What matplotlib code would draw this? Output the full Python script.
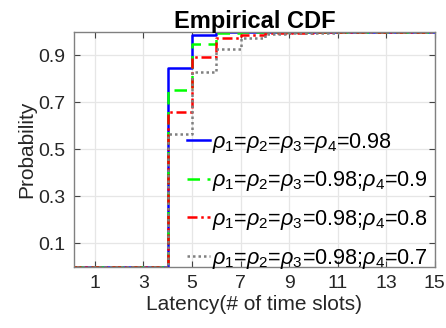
import matplotlib
matplotlib.use('Agg')
import matplotlib.pyplot as plt
import numpy as np

plt.rcParams['font.family'] = ['Liberation Sans', 'DejaVu Sans']
plt.rcParams['mathtext.fontset'] = 'custom'
plt.rcParams['mathtext.rm'] = 'Liberation Sans'
plt.rcParams['mathtext.it'] = 'Liberation Sans:italic'

# Latencias (pasos de la CDF) y probabilidades por serie
lat_azul = [0, 4, 5, 6, 15]
cdf_azul = [0, 0.846, 0.986, 1.0, 1.0]

lat_verde = [0, 4, 5, 6, 7, 8, 15]
cdf_verde = [0, 0.754, 0.950, 0.993, 0.998, 1.0, 1.0]

lat_rojo = [0, 4, 5, 6, 7, 8, 9, 10, 11, 15]
cdf_rojo = [0, 0.657, 0.893, 0.972, 0.988, 0.995, 0.997, 0.998, 1.0, 1.0]

lat_gris = [0, 4, 5, 6, 7, 8, 9, 10, 11, 15]
cdf_gris = [0, 0.564, 0.830, 0.926, 0.973, 0.990, 0.995, 0.997, 0.998, 0.999]

etiquetas = [
    r'$\rho_1$=$\rho_2$=$\rho_3$=$\rho_4$=0.98',
    r'$\rho_1$=$\rho_2$=$\rho_3$=0.98;$\rho_4$=0.9',
    r'$\rho_1$=$\rho_2$=$\rho_3$=0.98;$\rho_4$=0.8',
    r'$\rho_1$=$\rho_2$=$\rho_3$=0.98;$\rho_4$=0.7',
]

xticks = [1, 3, 5, 7, 9, 11, 13, 15]
yticks = [0.1, 0.3, 0.5, 0.7, 0.9]

fig = plt.figure(figsize=(4.46, 3.28), dpi=100)
ax = fig.add_axes([0.166, 0.187, 0.809, 0.716])

ax.step(lat_azul, cdf_azul, where='post', color='#0000ff', lw=1.8, ls='-', label=etiquetas[0])
ax.step(lat_verde, cdf_verde, where='post', color='#00ff00', lw=1.8, ls=(0, (5, 3)), label=etiquetas[1])
ax.step(lat_rojo, cdf_rojo, where='post', color='#ff0000', lw=1.8, ls=(0, (4, 1.5, 1, 1.5)), label=etiquetas[2])
ax.step(lat_gris, cdf_gris, where='post', color='#808080', lw=1.8, ls=(0, (1, 1.2)), label=etiquetas[3])

ax.set_xlim(0.14, 15)
ax.set_ylim(0, 1)
ax.set_xticks(xticks)
ax.set_yticks(yticks)
ax.set_xticklabels([str(t) for t in xticks])
ax.set_yticklabels([str(t) for t in yticks])

ax.grid(True, color='#e6e6e6', lw=0.9)
ax.set_axisbelow(True)
for s in ax.spines.values():
    s.set_color('#808080')
    s.set_linewidth(1.0)
ax.tick_params(direction='in', length=4, top=True, right=True, labelsize=14,
               colors='#262626', pad=6)
ax.tick_params(axis='both', which='both', color='#444444')

ax.set_xlabel('Latency(# of time slots)', fontsize=15, color='#262626', labelpad=2)
ax.set_ylabel('Probability', fontsize=15, color='#262626', labelpad=2)
ax.set_title('Empirical CDF', fontsize=17, fontweight='bold', pad=3)

ax.legend(loc='lower right', bbox_to_anchor=(1.0, -0.045), frameon=False, fontsize=15.6,
          handlelength=1.05, handletextpad=0.12, labelspacing=0.68, borderaxespad=0.0,
          borderpad=0.3)

fig.savefig('out.png', dpi=100)
